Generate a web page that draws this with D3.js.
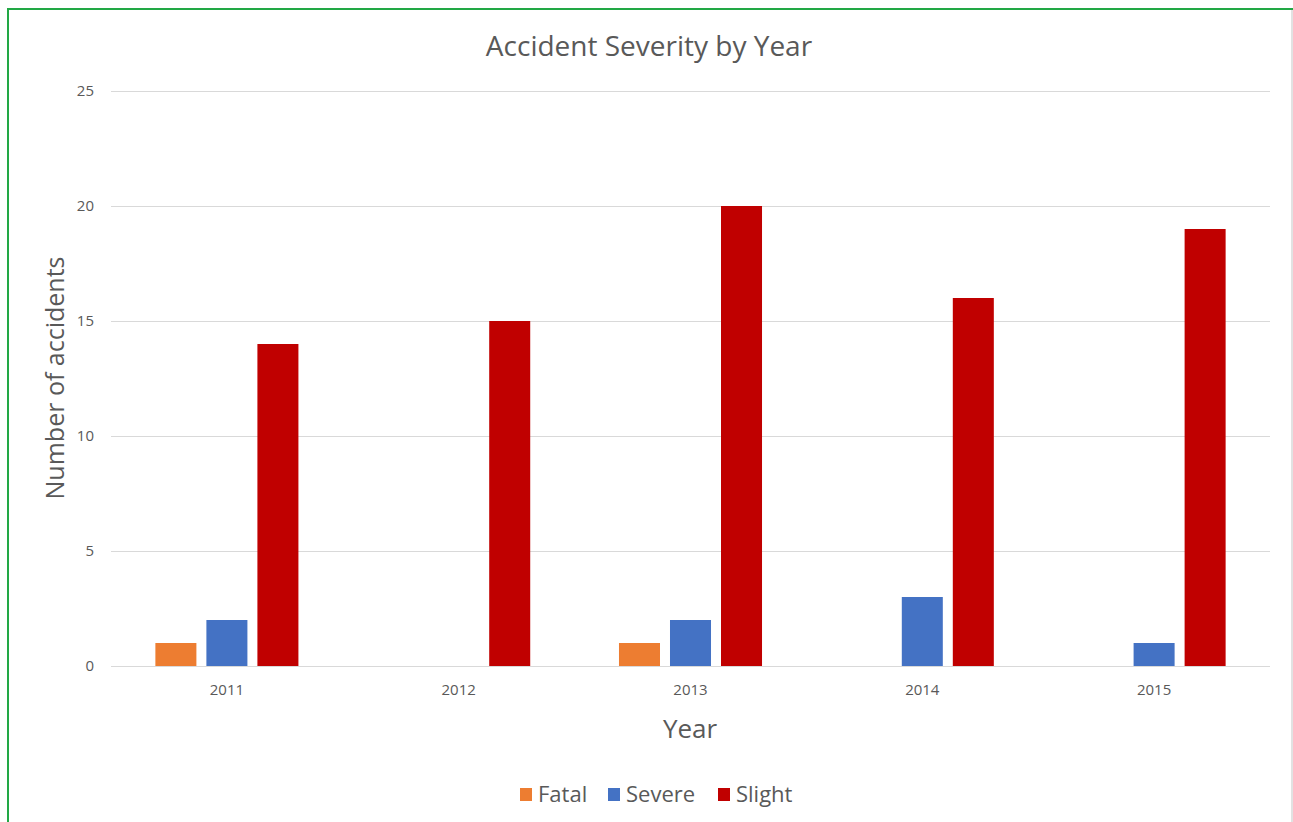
<!DOCTYPE html>
<html>
<head>
<meta charset="utf-8">
<script src="https://cdn.jsdelivr.net/npm/d3@7"></script>
<style>
  html, body { margin: 0; padding: 0; background: #fff; }
  svg { display: block; }
</style>
</head>
<body>
<svg id="chart" width="1293" height="822"></svg>
<script>
const years = ["2011", "2012", "2013", "2014", "2015"];
const seriesNames = ["Fatal", "Severe", "Slight"];
const fatal = [1, 0, 1, 0, 0];
const severe = [2, 0, 2, 3, 1];
const slight = [14, 15, 20, 16, 19];
const yTicks = [0, 5, 10, 15, 20, 25];
const colors = ["#ED7D31", "#4472C4", "#C00000"];

const seriesValues = [fatal, severe, slight];
const FONT = "'Open Sans', 'Liberation Sans', sans-serif";
const TXT = "#595959";

const svg = d3.select("#chart");

// outer frame
svg.append("rect").attr("x", 0).attr("y", 0).attr("width", 1293).attr("height", 822).attr("fill", "#fff");
svg.append("line").attr("x1", 1292).attr("x2", 1292).attr("y1", 10).attr("y2", 822)
  .attr("stroke", "#d9d9d9").attr("stroke-width", 1.5);
svg.append("line").attr("x1", 8).attr("x2", 1293).attr("y1", 9).attr("y2", 9)
  .attr("stroke", "#22a845").attr("stroke-width", 2);
svg.append("line").attr("x1", 8).attr("x2", 8).attr("y1", 8).attr("y2", 822)
  .attr("stroke", "#22a845").attr("stroke-width", 2);

const x = d3.scaleBand().domain(years).range([111, 1270]).paddingInner(0).paddingOuter(0);
const xs = d3.scaleBand().domain(seriesNames).range([0, x.bandwidth()])
  .paddingInner(0.196).paddingOuter(0.87);
const y = d3.scaleLinear().domain([0, 25]).range([666, 91]);

// gridlines
svg.append("g").selectAll("line").data(yTicks).join("line")
  .attr("x1", 111).attr("x2", 1270)
  .attr("y1", d => Math.round(y(d)) + 0.5).attr("y2", d => Math.round(y(d)) + 0.5)
  .attr("stroke", "#d9d9d9").attr("stroke-width", 1);

// y axis labels
const yAxis = d3.axisLeft(y).tickValues(yTicks).tickSize(0).tickPadding(0);
const gy = svg.append("g").attr("transform", "translate(94,0)").call(yAxis);
gy.select(".domain").remove();
gy.selectAll("text").attr("font-family", FONT).attr("font-size", 15).attr("fill", TXT);

// bars
const data = [];
years.forEach((yr, i) => seriesNames.forEach((s, j) => data.push({ yr, s, v: seriesValues[j][i], c: colors[j] })));
svg.append("g").selectAll("rect").data(data.filter(d => d.v > 0)).join("rect")
  .attr("x", d => x(d.yr) + xs(d.s))
  .attr("y", d => y(d.v))
  .attr("width", xs.bandwidth())
  .attr("height", d => y(0) - y(d.v))
  .attr("fill", d => d.c);

// x axis baseline
svg.append("line").attr("x1", 111).attr("x2", 1270).attr("y1", 666.5).attr("y2", 666.5)
  .attr("stroke", "#d9d9d9").attr("stroke-width", 1);

// x axis labels
const xAxis = d3.axisBottom(x).tickSize(0).tickPadding(0);
const gx = svg.append("g").attr("transform", "translate(0,684)").call(xAxis);
gx.select(".domain").remove();
gx.selectAll("text").attr("font-family", FONT).attr("font-size", 15).attr("fill", TXT);

// title
svg.append("text").attr("x", 649).attr("y", 56).attr("text-anchor", "middle")
  .attr("font-family", FONT).attr("font-size", 28).attr("fill", TXT)
  .text("Accident Severity by Year");

// axis titles
svg.append("text").attr("x", 690).attr("y", 738).attr("text-anchor", "middle")
  .attr("font-family", FONT).attr("font-size", 26).attr("fill", TXT).text("Year");
svg.append("text").attr("transform", "translate(64,378) rotate(-90)").attr("text-anchor", "middle")
  .attr("font-family", FONT).attr("font-size", 25).attr("fill", TXT).text("Number of accidents");

// legend
const legendX = [520, 608, 718];
const lg = svg.append("g");
seriesNames.forEach((s, j) => {
  lg.append("rect").attr("x", legendX[j]).attr("y", 788).attr("width", 12).attr("height", 13).attr("fill", colors[j]);
  lg.append("text").attr("x", legendX[j] + 18).attr("y", 802)
    .attr("font-family", FONT).attr("font-size", 22).attr("fill", TXT).text(s);
});
</script>
</body>
</html>
